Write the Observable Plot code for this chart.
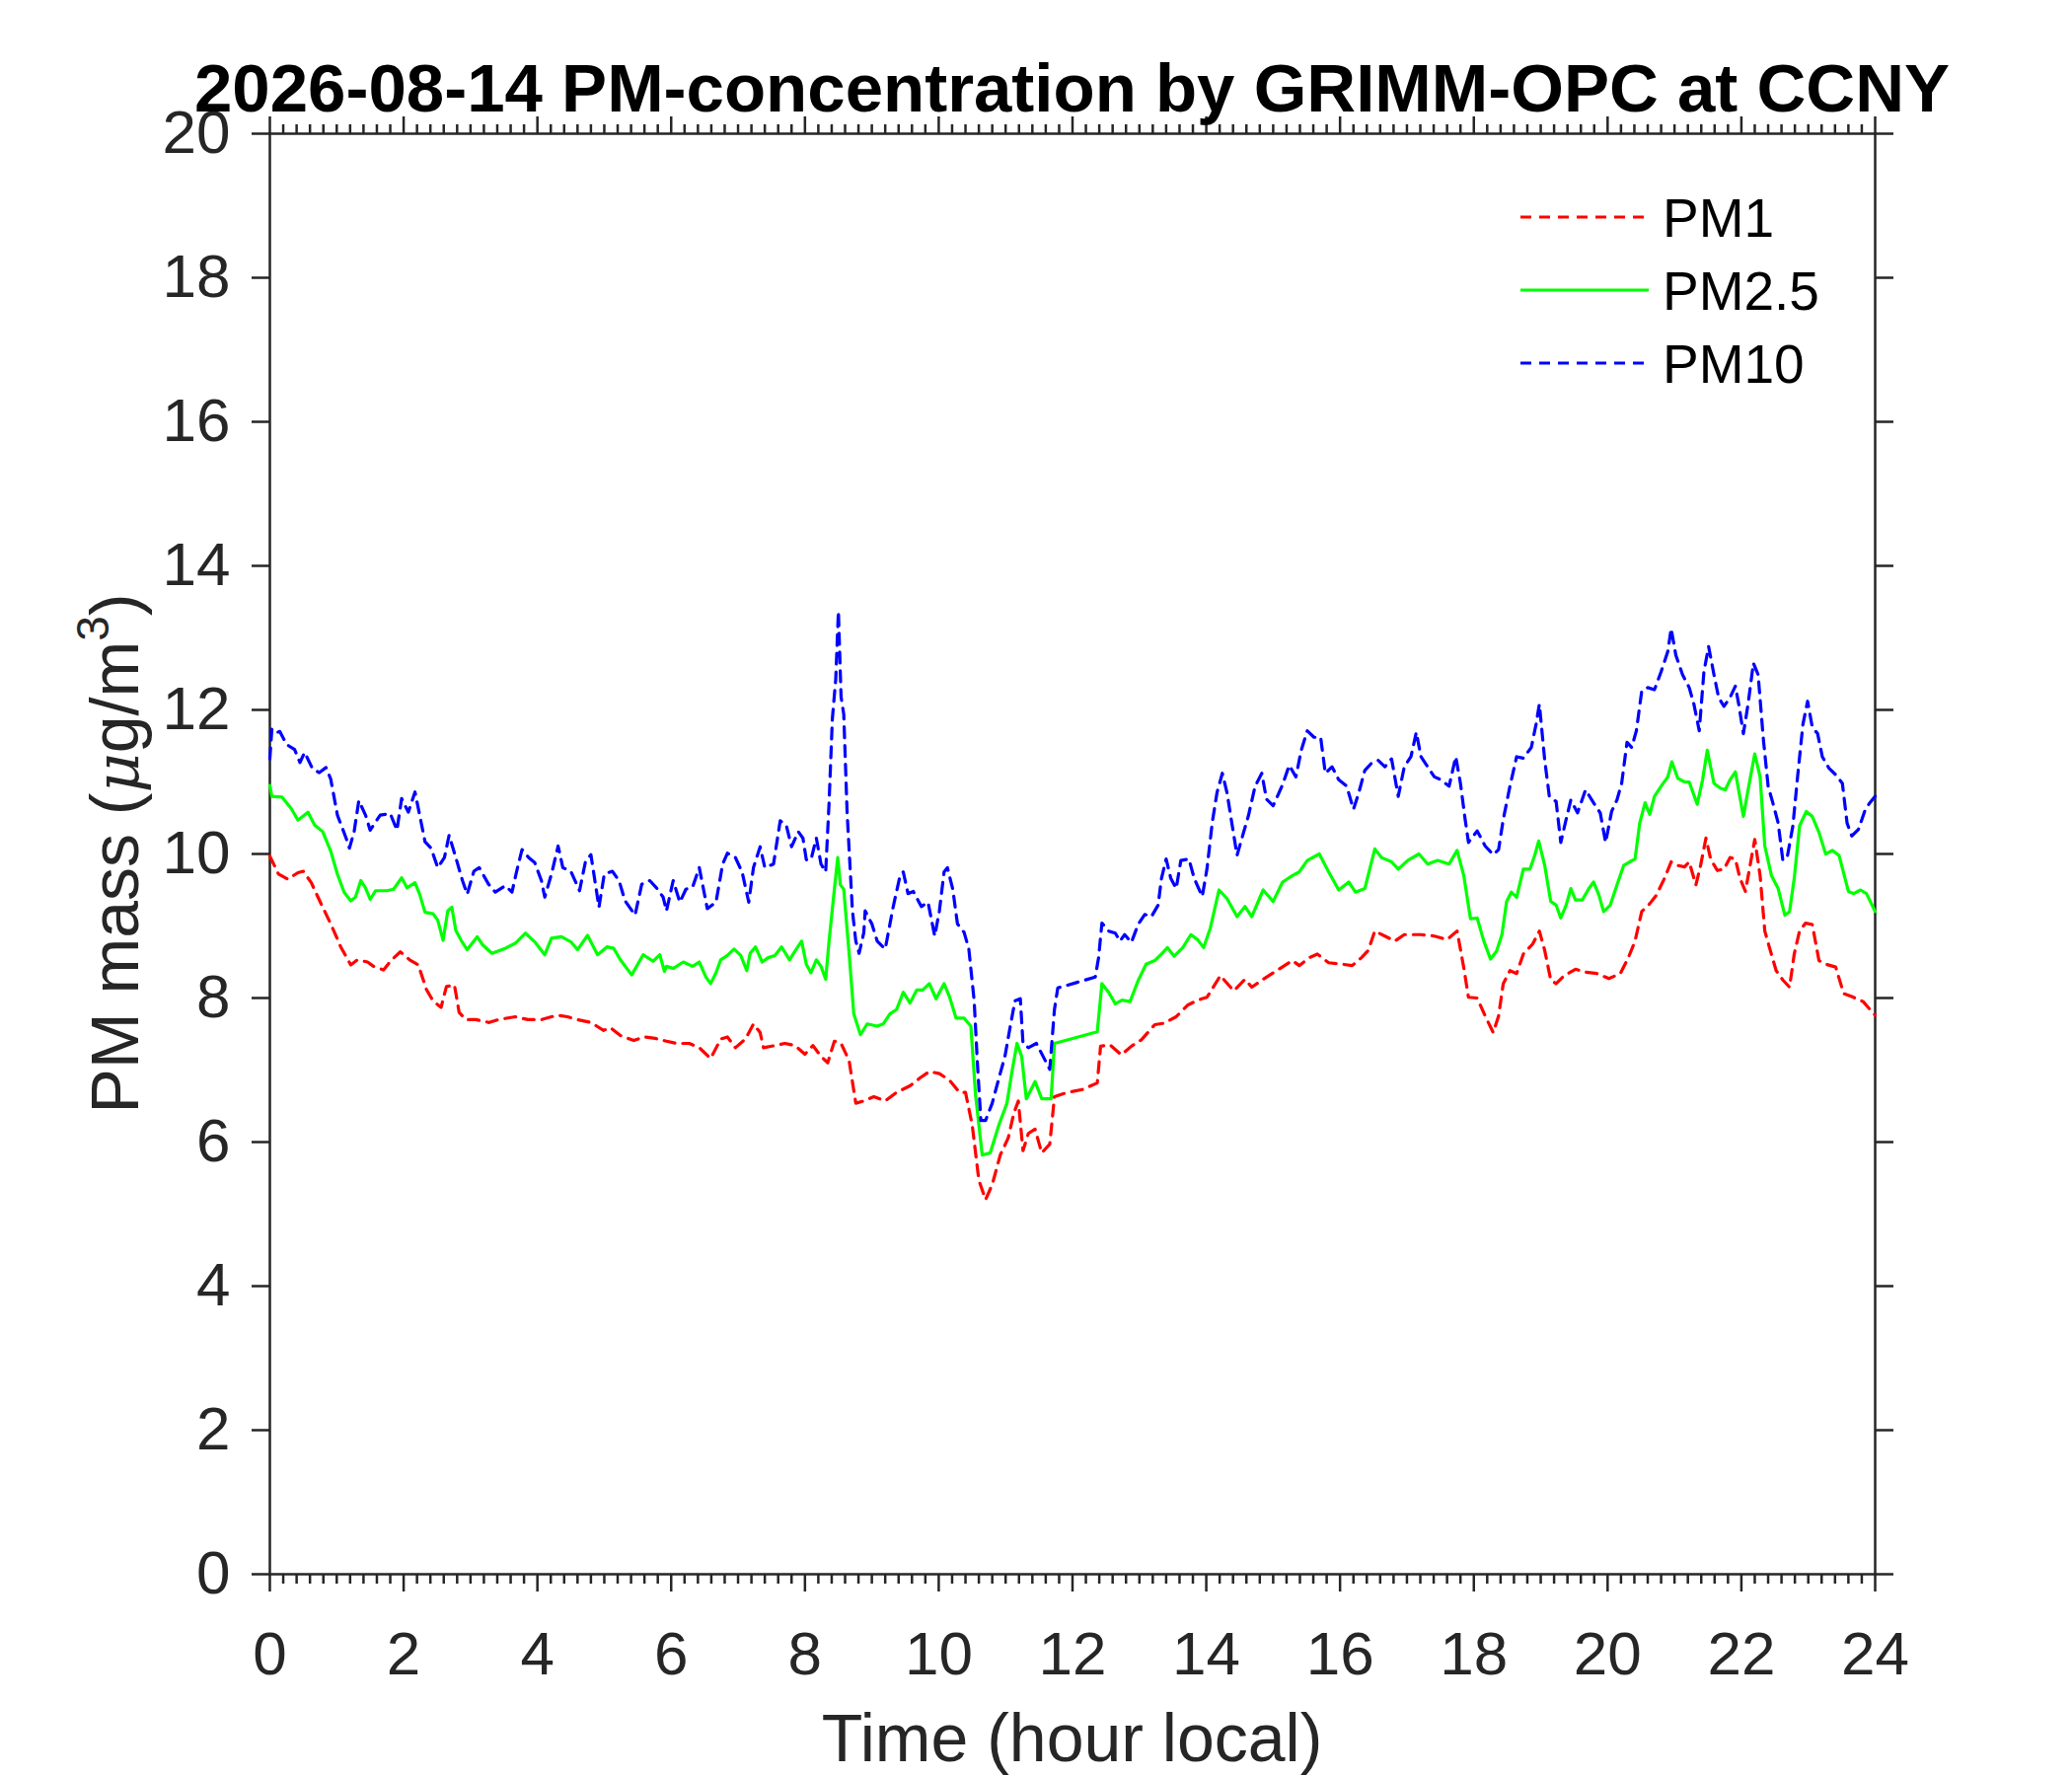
<!DOCTYPE html>
<html>
<head>
<meta charset="utf-8">
<script src="https://cdn.jsdelivr.net/npm/d3@7"></script>
<script src="https://cdn.jsdelivr.net/npm/@observablehq/plot@0.6"></script>
<style>
  html, body { margin: 0; padding: 0; background: #fff; }
  #chart svg { display: block; }
</style>
</head>
<body>
<div id="chart"></div>
<script>
// ---------- data (hour local, µg/m³) ----------
const titleText = "2026-08-14 PM-concentration by GRIMM-OPC at CCNY";
const xLabelText = "Time (hour local)";
const seriesNames = ["PM1", "PM2.5", "PM10"];
const seriesColors = ["#ff0000", "#00ff00", "#0000ff"];
const seriesDashes = ["11,8", null, "11,8"];

const pm1 = [[0,9.97],[0.13,9.72],[0.27,9.65],[0.42,9.74],[0.5,9.76],[0.62,9.6],[0.77,9.3],[0.91,9.03],[1.06,8.71],[1.21,8.46],[1.31,8.53],[1.46,8.5],[1.55,8.44],[1.7,8.39],[1.82,8.53],[1.95,8.64],[2.09,8.53],[2.22,8.46],[2.34,8.12],[2.44,7.96],[2.56,7.87],[2.64,8.16],[2.76,8.18],[2.83,7.8],[2.93,7.7],[3.08,7.7],[3.28,7.66],[3.42,7.7],[3.67,7.74],[3.86,7.7],[4.06,7.7],[4.21,7.74],[4.31,7.76],[4.45,7.74],[4.6,7.7],[4.8,7.66],[4.99,7.55],[5.09,7.59],[5.24,7.48],[5.44,7.41],[5.59,7.46],[5.76,7.44],[5.93,7.4],
[6.08,7.37],[6.27,7.37],[6.42,7.31],[6.59,7.16],[6.74,7.43],[6.84,7.46],[6.96,7.31],[7.11,7.43],[7.23,7.64],[7.33,7.52],[7.38,7.31],[7.55,7.34],[7.7,7.37],[7.85,7.34],[8.0,7.22],[8.12,7.34],[8.24,7.19],[8.34,7.1],[8.44,7.4],[8.54,7.37],[8.66,7.13],[8.76,6.54],[8.88,6.57],[9.03,6.63],[9.2,6.57],[9.37,6.69],[9.57,6.78],[9.72,6.89],[9.86,6.98],[10.01,6.95],[10.16,6.86],[10.31,6.69],[10.4,6.69],[10.5,6.24],[10.6,5.47],[10.7,5.2],[10.8,5.41],[10.92,5.82],[11.04,6.06],[11.12,6.39],[11.19,6.57],[11.26,5.88],[11.34,6.12],[11.44,6.18],[11.54,5.85],[11.66,5.97],[11.73,6.63],[11.93,6.69],
[12.15,6.73],[12.37,6.82],[12.42,7.33],[12.56,7.35],[12.73,7.21],[12.88,7.33],[13.03,7.42],[13.23,7.63],[13.37,7.65],[13.55,7.74],[13.72,7.9],[13.87,7.97],[14.01,8.01],[14.21,8.31],[14.41,8.1],[14.58,8.26],[14.68,8.15],[14.85,8.26],[15.05,8.38],[15.29,8.52],[15.39,8.45],[15.54,8.56],[15.66,8.61],[15.83,8.49],[16.03,8.47],[16.18,8.45],[16.32,8.56],[16.42,8.66],[16.52,8.93],[16.67,8.86],[16.82,8.79],[16.96,8.88],[17.21,8.88],[17.41,8.86],[17.6,8.81],[17.75,8.93],[17.85,8.42],[17.92,8.01],
[18.05,8.0],[18.17,7.75],[18.29,7.52],[18.37,7.75],[18.44,8.2],[18.54,8.38],[18.64,8.34],[18.74,8.61],[18.88,8.75],[18.98,8.93],[19.06,8.66],[19.15,8.25],[19.23,8.2],[19.35,8.31],[19.52,8.4],[19.67,8.36],[19.84,8.34],[20.02,8.27],[20.19,8.34],[20.31,8.56],[20.41,8.79],[20.51,9.2],[20.63,9.31],[20.73,9.43],[20.85,9.66],[20.95,9.89],[21.05,9.84],[21.15,9.82],[21.22,9.89],[21.32,9.57],[21.39,9.84],[21.47,10.22],[21.54,9.93],[21.64,9.77],[21.74,9.79],[21.83,9.95],[21.91,9.93],[21.98,9.66],[22.06,9.48],[22.13,9.84],[22.2,10.2],[22.28,9.7],[22.35,8.93],[22.42,8.7],[22.52,8.38],[22.62,8.25],[22.72,8.15],[22.79,8.61],[22.87,8.93],[22.96,9.04],[23.06,9.02],[23.16,8.52],[23.26,8.47],[23.41,8.43],[23.53,8.06],[23.65,8.02],[23.82,7.95],[24.0,7.76]];

const pm25 = [[0,10.95],[0.03,10.8],[0.18,10.79],[0.32,10.63],[0.42,10.47],[0.57,10.58],[0.67,10.4],[0.79,10.31],[0.91,10.04],[1.01,9.72],[1.11,9.47],[1.21,9.35],[1.28,9.4],[1.36,9.63],[1.43,9.53],[1.5,9.37],[1.58,9.49],[1.75,9.49],[1.85,9.51],[1.97,9.67],[2.05,9.53],[2.17,9.6],[2.24,9.44],[2.32,9.19],[2.44,9.17],[2.51,9.08],[2.59,8.8],[2.66,9.21],[2.72,9.26],[2.78,8.94],[2.86,8.8],[2.95,8.67],[3.1,8.85],[3.18,8.74],[3.32,8.62],[3.52,8.69],[3.67,8.76],[3.82,8.9],[3.96,8.78],[4.11,8.6],[4.21,8.83],[4.36,8.85],[4.5,8.78],[4.6,8.67],[4.75,8.87],[4.9,8.6],[5.04,8.71],[5.14,8.69],[5.24,8.53],[5.41,8.32],[5.58,8.6],[5.73,8.51],[5.83,8.6],[5.9,8.37],
[5.93,8.44],[6.03,8.41],[6.18,8.5],[6.32,8.44],[6.42,8.5],[6.52,8.29],[6.59,8.2],[6.67,8.35],[6.74,8.53],[6.84,8.59],[6.94,8.68],[7.04,8.59],[7.13,8.38],[7.18,8.62],[7.26,8.71],[7.36,8.5],[7.45,8.56],[7.55,8.59],[7.65,8.71],[7.77,8.53],[7.85,8.65],[7.95,8.79],[8.02,8.47],[8.09,8.35],[8.17,8.53],[8.24,8.44],[8.31,8.26],[8.36,8.79],[8.44,9.51],[8.49,9.95],[8.53,9.57],[8.58,9.51],[8.66,8.62],[8.73,7.78],[8.83,7.49],[8.93,7.64],[9.08,7.61],[9.17,7.64],[9.27,7.78],[9.37,7.84],[9.47,8.08],[9.57,7.93],[9.67,8.11],[9.76,8.11],[9.86,8.2],[9.96,7.99],[10.08,8.2],[10.16,8.02],[10.26,7.72],[10.38,7.72],[10.48,7.61],[10.55,6.66],[10.65,5.82],[10.77,5.85],[10.9,6.24],[11.02,6.54],[11.09,6.95],[11.17,7.37],[11.24,7.19],[11.31,6.6],[11.44,6.84],[11.54,6.6],[11.68,6.6],[11.73,7.37],
[12.37,7.53],[12.44,8.2],[12.54,8.08],[12.64,7.92],[12.74,7.97],[12.86,7.95],[12.98,8.24],[13.1,8.47],[13.23,8.52],[13.33,8.61],[13.42,8.7],[13.52,8.58],[13.65,8.7],[13.77,8.88],[13.87,8.81],[13.96,8.7],[14.06,8.97],[14.19,9.5],[14.31,9.38],[14.46,9.13],[14.58,9.27],[14.68,9.13],[14.85,9.5],[15.0,9.34],[15.14,9.61],[15.29,9.7],[15.39,9.75],[15.51,9.91],[15.69,10.0],[15.83,9.75],[15.98,9.5],[16.13,9.61],[16.23,9.47],[16.37,9.52],[16.52,10.07],[16.62,9.95],[16.77,9.89],[16.87,9.79],[17.01,9.91],[17.18,10.0],[17.31,9.86],[17.46,9.91],[17.63,9.86],[17.75,10.05],[17.85,9.7],[17.95,9.1],
[18.05,9.11],[18.15,8.79],[18.25,8.54],[18.34,8.65],[18.42,8.88],[18.49,9.34],[18.56,9.47],[18.64,9.4],[18.74,9.79],[18.84,9.79],[18.91,9.98],[18.97,10.18],[19.06,9.84],[19.15,9.34],[19.23,9.29],[19.3,9.11],[19.38,9.29],[19.45,9.52],[19.52,9.36],[19.62,9.36],[19.72,9.52],[19.79,9.61],[19.87,9.43],[19.94,9.2],[20.04,9.29],[20.14,9.57],[20.24,9.84],[20.33,9.89],[20.41,9.93],[20.48,10.43],[20.56,10.71],[20.63,10.55],[20.7,10.8],[20.8,10.94],[20.9,11.07],[20.96,11.28],[21.05,11.05],[21.15,11.0],[21.22,11.0],[21.34,10.69],[21.42,11.03],[21.49,11.44],[21.59,10.98],[21.69,10.91],[21.76,10.89],[21.83,11.03],[21.91,11.14],[22.03,10.52],[22.1,10.89],[22.2,11.39],[22.28,11.07],[22.35,10.11],[22.45,9.7],[22.55,9.52],[22.65,9.15],[22.72,9.2],[22.79,9.66],[22.87,10.39],[22.97,10.59],[23.06,10.52],[23.16,10.3],[23.26,10.0],[23.36,10.05],[23.46,9.98],[23.53,9.73],[23.6,9.48],[23.68,9.45],[23.78,9.5],[23.87,9.45],[24.0,9.2]];

const pm10 = [[0,11.32],[0.03,11.73],[0.08,11.68],[0.15,11.7],[0.25,11.52],[0.37,11.45],[0.45,11.27],[0.52,11.41],[0.64,11.18],[0.74,11.13],[0.84,11.2],[0.91,11.04],[1.01,10.54],[1.14,10.22],[1.19,10.08],[1.26,10.31],[1.33,10.74],[1.43,10.54],[1.5,10.33],[1.65,10.54],[1.8,10.56],[1.9,10.33],[1.97,10.77],[2.07,10.58],[2.17,10.86],[2.24,10.54],[2.32,10.17],[2.41,10.08],[2.51,9.81],[2.61,9.95],[2.68,10.26],[2.78,9.95],[2.88,9.63],[2.95,9.44],[3.05,9.76],[3.13,9.81],[3.27,9.58],[3.37,9.47],[3.52,9.56],[3.62,9.47],[3.69,9.76],[3.77,10.06],[3.87,9.95],[3.96,9.88],[4.06,9.63],[4.11,9.4],[4.21,9.72],[4.31,10.11],[4.38,9.81],[4.5,9.76],[4.63,9.49],[4.72,9.9],[4.8,9.99],[4.92,9.26],[5.0,9.72],[5.12,9.76],[5.22,9.63],[5.31,9.35],[5.46,9.15],[5.56,9.58],[5.68,9.63],[5.78,9.53],[5.88,9.4],
[5.93,9.21],[6.03,9.63],[6.13,9.33],[6.22,9.51],[6.32,9.54],[6.42,9.81],[6.54,9.24],[6.67,9.33],[6.77,9.86],[6.84,10.01],[6.96,9.95],[7.06,9.75],[7.16,9.33],[7.23,9.81],[7.33,10.1],[7.4,9.81],[7.53,9.86],[7.63,10.46],[7.72,10.4],[7.8,10.1],[7.9,10.31],[7.97,10.22],[8.02,9.92],[8.09,9.92],[8.17,10.22],[8.24,9.86],[8.31,9.75],[8.36,10.7],[8.41,11.88],[8.46,12.42],[8.5,13.37],[8.54,12.18],[8.58,11.94],[8.63,10.58],[8.71,9.21],[8.76,8.79],[8.81,8.62],[8.88,8.91],[8.9,9.21],[9.0,9.03],[9.08,8.79],[9.2,8.68],[9.32,9.27],[9.42,9.69],[9.47,9.75],[9.54,9.45],[9.62,9.48],[9.74,9.27],[9.84,9.33],[9.94,8.86],[10.01,9.21],[10.08,9.75],[10.13,9.81],[10.21,9.51],[10.28,9.03],[10.38,8.91],[10.45,8.68],[10.53,7.96],[10.58,7.07],[10.63,6.3],[10.7,6.3],[10.8,6.54],[10.9,6.89],[10.99,7.19],[11.07,7.61],[11.14,7.96],[11.22,7.99],[11.26,7.37],[11.34,7.31],[11.46,7.37],[11.56,7.19],[11.66,7.01],[11.73,7.84],[11.78,8.14],
[12.34,8.29],[12.39,8.56],[12.44,9.04],[12.54,8.93],[12.64,8.9],[12.71,8.79],[12.78,8.88],[12.88,8.77],[12.98,9.02],[13.08,9.16],[13.18,9.13],[13.28,9.29],[13.33,9.66],[13.4,9.93],[13.47,9.66],[13.55,9.52],[13.62,9.91],[13.74,9.93],[13.82,9.66],[13.94,9.41],[14.01,9.79],[14.09,10.44],[14.16,10.85],[14.24,11.12],[14.31,10.85],[14.38,10.44],[14.46,9.98],[14.53,10.21],[14.63,10.53],[14.73,10.94],[14.83,11.12],[14.9,10.76],[15.0,10.67],[15.14,10.96],[15.24,11.23],[15.34,11.07],[15.42,11.44],[15.51,11.71],[15.61,11.62],[15.71,11.62],[15.78,11.12],[15.88,11.21],[15.98,11.03],[16.1,10.94],[16.2,10.62],[16.28,10.85],[16.37,11.16],[16.47,11.26],[16.57,11.3],[16.67,11.21],[16.77,11.32],[16.87,10.8],[16.96,11.21],[17.06,11.35],[17.14,11.69],[17.21,11.35],[17.31,11.21],[17.41,11.07],[17.51,11.03],[17.63,10.94],[17.73,11.35],[17.8,10.98],[17.87,10.48],[17.92,10.16],
[18.05,10.32],[18.17,10.11],[18.29,9.99],[18.37,10.06],[18.44,10.48],[18.54,10.94],[18.64,11.35],[18.74,11.33],[18.86,11.48],[18.93,11.8],[18.98,12.08],[19.06,11.3],[19.13,10.79],[19.23,10.73],[19.3,10.16],[19.38,10.48],[19.45,10.75],[19.55,10.57],[19.67,10.89],[19.79,10.71],[19.89,10.57],[19.97,10.16],[20.06,10.59],[20.14,10.75],[20.21,10.98],[20.29,11.55],[20.36,11.48],[20.43,11.71],[20.51,12.26],[20.6,12.31],[20.7,12.28],[20.8,12.53],[20.9,12.81],[20.95,13.13],[21.02,12.76],[21.12,12.49],[21.22,12.31],[21.29,12.08],[21.37,11.71],[21.44,12.53],[21.51,12.88],[21.59,12.49],[21.66,12.17],[21.74,12.05],[21.83,12.17],[21.91,12.33],[21.96,12.08],[22.03,11.67],[22.1,12.08],[22.18,12.65],[22.25,12.49],[22.33,11.58],[22.4,10.94],[22.47,10.71],[22.55,10.43],[22.62,9.91],[22.69,9.98],[22.77,10.39],[22.84,11.07],[22.92,11.8],[22.99,12.12],[23.06,11.76],[23.14,11.67],[23.21,11.35],[23.31,11.19],[23.41,11.1],[23.51,10.98],[23.58,10.43],[23.65,10.25],[23.75,10.34],[23.85,10.61],[23.92,10.71],[24.0,10.8]];

const xMajorTicks = [0, 2, 4, 6, 8, 10, 12, 14, 16, 18, 20, 22, 24];
const xMinorTicks = d3.range(0, 121).map(i => i / 5).filter(v => Math.abs(v / 2 - Math.round(v / 2)) > 1e-6);
const yTicks = [0, 2, 4, 6, 8, 10, 12, 14, 16, 18, 20];

// ---------- build ----------
const seriesData = [pm1, pm25, pm10];
const rows = seriesData.map((s, i) => s.map(([hour, value]) => ({hour, value, series: seriesNames[i]})));

const ink = "#262626";
const font = "'Liberation Sans', Arial, Helvetica, sans-serif";
const axisCommon = {stroke: ink, strokeWidth: 2.5, label: null};
const noText = () => "";
const lineWidth = 3.2;

const marks = [
  Plot.axisX({...axisCommon, anchor: "bottom", ticks: xMajorTicks, tickSize: 18, tickPadding: 39, fontSize: 62, fill: ink, tickFormat: d => String(d)}),
  Plot.axisX({...axisCommon, anchor: "bottom", ticks: xMinorTicks, tickSize: 10, tickFormat: noText}),
  Plot.axisX({...axisCommon, anchor: "top", ticks: xMajorTicks, tickSize: 18, tickFormat: noText}),
  Plot.axisX({...axisCommon, anchor: "top", ticks: xMinorTicks, tickSize: 10, tickFormat: noText}),
  Plot.axisY({...axisCommon, anchor: "left", ticks: yTicks, tickSize: 18, tickPadding: 22, fontSize: 62, fill: ink, tickFormat: d => String(d)}),
  Plot.axisY({...axisCommon, anchor: "right", ticks: yTicks, tickSize: 18, tickFormat: noText}),
  Plot.frame({stroke: ink, strokeWidth: 2.5})
];
rows.forEach((r, i) => {
  marks.push(Plot.line(r, {
    x: "hour", y: "value",
    stroke: seriesColors[i], strokeWidth: lineWidth,
    strokeDasharray: seriesDashes[i] || undefined,
    strokeLinejoin: "round"
  }));
});

const chart = Plot.plot({
  width: 2100, height: 1800,
  marginLeft: 273, marginRight: 200, marginTop: 135, marginBottom: 205,
  style: {fontFamily: font, background: "white", color: ink, overflow: "visible"},
  x: {domain: [0, 24]},
  y: {domain: [0, 20]},
  marks
});

const svg = d3.select(chart);
const cx = (273 + 1900) / 2;

// title
svg.append("text")
  .attr("x", cx).attr("y", 113)
  .attr("text-anchor", "middle")
  .attr("font-family", font).attr("font-weight", "bold").attr("font-size", 69)
  .attr("fill", "#000")
  .text(titleText);

// x label
svg.append("text")
  .attr("x", cx).attr("y", 1785)
  .attr("text-anchor", "middle")
  .attr("font-family", font).attr("font-size", 68)
  .attr("fill", ink)
  .text(xLabelText);

// y label with italic mu and superscript 3
const yl = svg.append("text")
  .attr("transform", `translate(140,865) rotate(-90)`)
  .attr("text-anchor", "middle")
  .attr("font-family", font).attr("font-size", 68)
  .attr("fill", ink);
yl.append("tspan").text("PM mass (");
yl.append("tspan").attr("font-style", "italic").attr("font-family", "'DejaVu Serif', serif").attr("font-size", 62).text("μ");
yl.append("tspan").text("g/m");
yl.append("tspan").attr("font-size", 46).attr("dy", -30).text("3");
yl.append("tspan").attr("dy", 30).text(")");

// legend
const legendY = [220, 294, 368];
seriesNames.forEach((name, i) => {
  const g = svg.append("g");
  const ln = g.append("line")
    .attr("x1", 1541).attr("x2", 1671)
    .attr("y1", legendY[i]).attr("y2", legendY[i])
    .attr("stroke", seriesColors[i]).attr("stroke-width", lineWidth);
  if (seriesDashes[i]) ln.attr("stroke-dasharray", seriesDashes[i]);
  g.append("text")
    .attr("x", 1685).attr("y", legendY[i] + 20)
    .attr("text-anchor", "start")
    .attr("font-family", font).attr("font-size", 55)
    .attr("fill", "#000")
    .text(name);
});

document.getElementById("chart").appendChild(chart);
</script>
</body>
</html>
